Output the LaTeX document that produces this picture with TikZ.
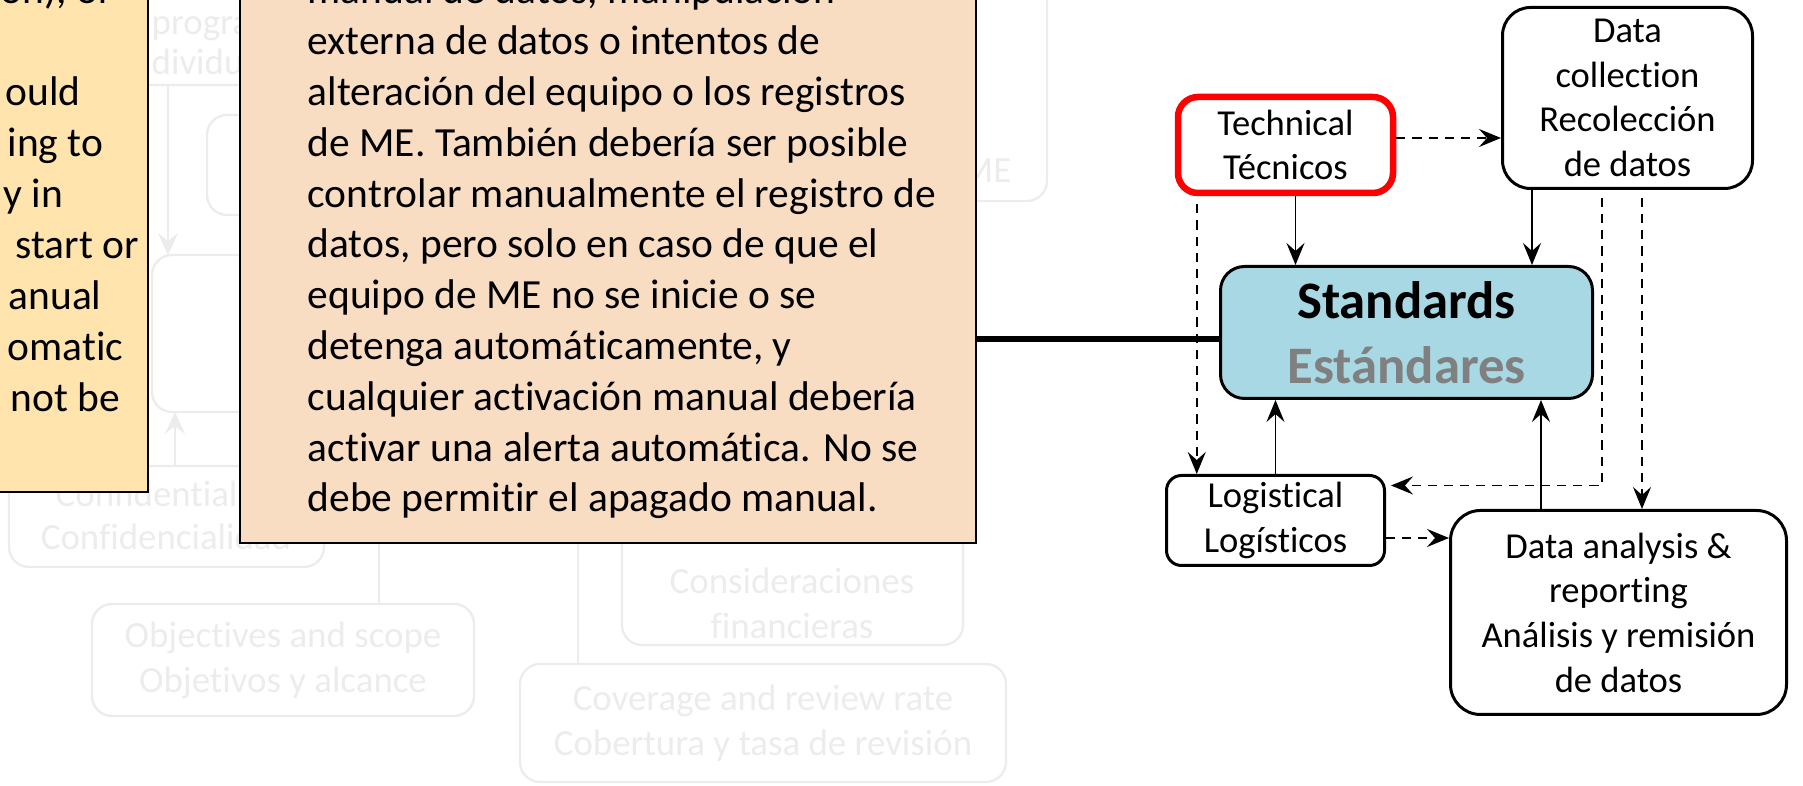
\documentclass[tikz,border=0pt]{standalone}
\usepackage{fontspec}
\setmainfont{Carlito}[Ligatures=NoCommon]
\usetikzlibrary{arrows.meta}

\definecolor{notefill}{RGB}{255,229,173}
\definecolor{peachfill}{RGB}{248,221,195}
\definecolor{stdfill}{RGB}{168,216,227}
\definecolor{faint}{RGB}{236,236,236}
\definecolor{esgray}{RGB}{128,128,128}

\tikzset{
  box/.style={draw, line width=0.85pt, rounded corners=0.2cm, align=center, inner sep=0pt,
    font=\fontsize{10.4}{12.7}\selectfont},
  redbox/.style={box, draw=red, line width=1.85pt},
  arr/.style={-{Stealth[length=0.22cm,width=0.18cm,inset=0.08cm]}, line width=0.55pt},
  dasharr/.style={arr, dash pattern=on 2.6pt off 2pt},
  link/.style={line width=1.8pt},
  fadebox/.style={draw=faint, line width=0.65pt, rounded corners=0.2cm, align=center,
    inner sep=0pt, text=faint, font=\fontsize{10.5}{12.8}\selectfont},
  fadetxt/.style={text=faint, align=center, inner sep=0pt, font=\fontsize{10.5}{12.8}\selectfont},
  fadearr/.style={draw=faint, line width=0.65pt, -{Stealth[length=0.22cm,width=0.2cm,inset=0.08cm]}},
  notetxt/.style={font=\fontsize{11.8}{14.4}\selectfont, inner sep=0pt, anchor=base west},
}

\begin{document}
\begin{tikzpicture}
\useasboundingbox (0,0) rectangle (18.03,-7.86);
\clip (0,0) rectangle (18.03,-7.86);

% faded diagram behind the notes
\draw[fadebox] (0.6,0.4) rectangle (2.9,-0.85);
\node[fadetxt, anchor=base west] (fprog) at (1.51,-0.35) {progra};
\node[fadetxt, anchor=base west] (fdiv) at (1.51,-0.75) {dividu};
\draw[fadebox] (2.07,-1.15) rectangle (3.0,-2.15);
\draw[fadebox] (1.52,-2.55) rectangle (3.0,-4.12);
\draw[fadearr] (1.68,-0.85) -- (1.68,-2.55);
\draw[fadearr] (1.75,-4.66) -- (1.75,-4.12);
\draw[fadebox] (0.09,-4.66) rectangle (3.24,-5.67);
\node[fadetxt, anchor=base west] (fconf) at (0.55,-5.07) {Confidential};
\node[fadetxt, anchor=base] (fconf2) at (1.66,-5.50) {Confidencialidad};
\draw[draw=faint, line width=0.65pt] (3.79,-5.3) -- (3.79,-6.04);
\node[fadebox, minimum width=3.82cm, minimum height=1.12cm] (fobj) at (2.83,-6.60)
  {Objectives and scope\\Objetivos y alcance};
\draw[draw=faint, line width=0.65pt] (5.78,-5.3) -- (5.78,-6.64);
\draw[fadebox] (6.22,-4.9) rectangle (9.63,-6.45);
\node[fadetxt] (fcons) at (7.92,-6.03) {Consideraciones\\financieras};
\node[fadebox, minimum width=4.86cm, minimum height=1.18cm] (fcov) at (7.63,-7.23)
  {Coverage and review rate\\Cobertura y tasa de revisión};
\draw[fadebox] (8.5,0.3) rectangle (10.47,-2.01);
\node[fadetxt, anchor=base east] (fme) at (10.12,-1.83) {ME};

% yellow note (cut at the left)
\node[draw, fill=notefill, line width=0.6pt, minimum width=3cm, minimum height=5.5cm,
  anchor=south east, inner sep=0pt] (note) at (1.49,-4.93) {};
\foreach \lx/\ly/\txt [count=\i] in {0.00/0.04/{on), or}, 0.05/1.06/ould, 0.07/1.57/{ing to},
    0.03/2.08/{y in}, 0.15/2.59/{start or}, 0.08/3.10/anual, 0.07/3.61/omatic, 0.10/4.12/{not be}}
  \node[notetxt] (nl\i) at (\lx,-\ly) {\txt};

% peach note (cut at the top)
\node[draw, fill=peachfill, line width=0.6pt, minimum width=7.36cm, minimum height=6cm,
  anchor=south west, inner sep=0pt] (peach) at (2.39,-5.44) {};
\foreach \txt [count=\i] in {{manual de datos, manipulación}, {externa de datos o intentos de},
    {alteración del equipo o los registros}, {de ME. También debería ser posible},
    {controlar manualmente el registro de}, {datos, pero solo en caso de que el},
    {equipo de ME no se inicie o se}, {detenga automáticamente, y},
    {cualquier activación manual debería}, {activar una alerta automática. No se},
    {debe permitir el apagado manual.}}
  \node[notetxt] (pl\i) at (3.07,{-0.04-0.508*(\i-1)}) {\txt};

% Standards diagram
\node[redbox, minimum width=2.15cm, minimum height=0.96cm] (tech) at (12.855,-1.45)
  {Technical\\Técnicos};
\node[box, minimum width=2.50cm, minimum height=1.81cm, rounded corners=0.28cm] (dc)
  at (16.275,-0.98) {Data\\collection\\Recolección\\de datos};
\node[box, fill=stdfill, minimum width=3.72cm, minimum height=1.32cm, rounded corners=0.24cm,
  font=\fontsize{15}{18.6}\selectfont\bfseries] (std) at (14.065,-3.325)
  {Standards\\\textcolor{esgray}{Estándares}};
\node[box, minimum width=2.18cm, minimum height=0.90cm, rounded corners=0.15cm] (log)
  at (12.755,-5.205) {Logistical\\Logísticos};
\node[box, minimum width=3.36cm, minimum height=2.04cm, rounded corners=0.3cm] (da)
  at (16.185,-6.125) {Data analysis \&\\reporting\\Análisis y remisión\\de datos};

% connectors
\draw[link] ([yshift=-0.065cm]std.west) -- ([yshift=-0.065cm]std.west -| peach.east);
\draw[arr] ([xshift=0.1cm]tech.south) -- ([xshift=0.1cm]tech.south |- std.north);
\draw[arr] ([xshift=-0.955cm]dc.south) -- ([xshift=-0.955cm]dc.south |- std.north);
\draw[dasharr] ([yshift=0.07cm]tech.east) -- ([yshift=0.07cm]tech.east -| dc.west);
\draw[dasharr] ([xshift=0.22cm,yshift=-0.08cm]tech.south west)
  -- ([xshift=0.22cm]tech.south west |- log.north);
\draw[arr] (log.north) -- (log.north |- std.south);
\draw[arr] ([xshift=-0.775cm]da.north) -- ([xshift=-0.775cm]da.north |- std.south);
\draw[dasharr] ([xshift=-0.255cm,yshift=-0.08cm]dc.south) |- ([xshift=0.05cm,yshift=0.35cm]log.east);
\draw[dasharr] ([xshift=0.145cm,yshift=-0.08cm]dc.south) -- ([xshift=0.145cm]dc.south |- da.north);
\draw[dasharr] ([yshift=-0.175cm]log.east) -- ([yshift=-0.175cm]log.east -| da.west);

\end{tikzpicture}
\end{document}
